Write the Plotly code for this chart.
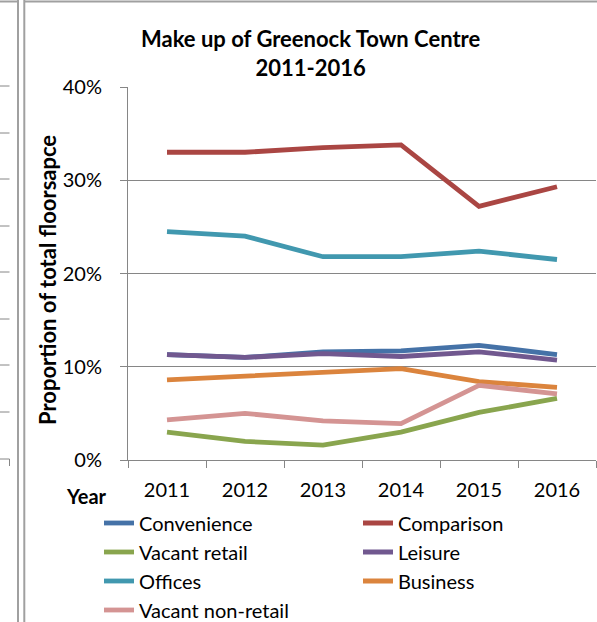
import plotly.graph_objects as go

# Floorspace make-up of Greenock town centre, share of total floorspace (%)
years = ["2011", "2012", "2013", "2014", "2015", "2016"]
convenience = [11.3, 11.0, 11.6, 11.7, 12.3, 11.3]
comparison = [33.0, 33.0, 33.5, 33.8, 27.2, 29.3]
vacant_retail = [3.0, 2.0, 1.6, 3.0, 5.1, 6.6]
leisure = [11.3, 11.0, 11.4, 11.1, 11.6, 10.7]
offices = [24.5, 24.0, 21.8, 21.8, 22.4, 21.5]
business = [8.6, 9.0, 9.5, 9.8, 8.4, 7.8]
vacant_non_retail = [4.3, 5.0, 4.2, 3.9, 8.0, 7.1]

# name, values, colour, legend column
series = [
    ("Convenience", convenience, "#4572A7", "legend"),
    ("Comparison", comparison, "#AA4643", "legend2"),
    ("Vacant retail", vacant_retail, "#89A54E", "legend"),
    ("Leisure", leisure, "#71588F", "legend2"),
    ("Offices", offices, "#4198AF", "legend"),
    ("Business", business, "#DB843D", "legend2"),
    ("Vacant non-retail", vacant_non_retail, "#D49493", "legend"),
]

W, H = 597, 622
ML, MR, MT, MB = 128, 1, 87, 162
PW, PH = W - ML - MR, H - MT - MB
FONT = "Lato"
GREY = "#868686"


def px(x):
    return (x - ML) / PW


def py(y):
    return (H - MB - y) / PH


fig = go.Figure()
for name, vals, color, leg in series:
    fig.add_trace(go.Scatter(
        x=years, y=[v / 100 for v in vals], name=name, mode="lines",
        line=dict(color=color, width=4.8), legend=leg,
    ))

shapes = []
# borders of the neighbouring chart and of this chart area
for xpix in (18, 24.3):
    shapes.append(dict(type="line", xref="paper", yref="paper",
                       x0=px(xpix), x1=px(xpix), y0=py(0), y1=py(H),
                       line=dict(color="#A0A0A0", width=2)))
shapes.append(dict(type="line", xref="paper", yref="paper",
                   x0=px(0), x1=px(18), y0=py(1.5), y1=py(1.5),
                   line=dict(color="#A0A0A0", width=2)))
shapes.append(dict(type="line", xref="paper", yref="paper",
                   x0=px(24.3), x1=px(W), y0=py(1.5), y1=py(1.5),
                   line=dict(color="#A0A0A0", width=2)))
# tick marks of the neighbouring chart's axis
for ypix in (86, 133, 179, 226, 272, 319, 365, 412, 459):
    shapes.append(dict(type="line", xref="paper", yref="paper",
                       x0=px(0), x1=px(9.5), y0=py(ypix), y1=py(ypix),
                       line=dict(color=GREY, width=1)))
shapes.append(dict(type="line", xref="paper", yref="paper",
                   x0=px(9.5), x1=px(9.5), y0=py(459), y1=py(466),
                   line=dict(color=GREY, width=1)))

annotations = [
    dict(text="<b>Make up of Greenock Town Centre<br>2011-2016</b>",
         xref="paper", yref="paper", x=px(310), y=py(53),
         xanchor="center", yanchor="middle", showarrow=False,
         font=dict(family=FONT, size=22, color="black")),
    dict(text="<b>Proportion of total floorsapce</b>", textangle=-90,
         xref="paper", yref="paper", x=px(47), y=py(280),
         xanchor="center", yanchor="middle", showarrow=False,
         font=dict(family=FONT, size=22, color="black")),
    dict(text="<b>Year</b>", xref="paper", yref="paper",
         x=px(86), y=py(496), xanchor="center", yanchor="middle",
         showarrow=False, font=dict(family=FONT, size=20, color="black")),
]

legend_common = dict(
    orientation="v", xanchor="left", yanchor="top",
    xref="container", yref="container",
    y=(H - 503.5) / H, font=dict(family=FONT, size=20, color="black"),
    bgcolor="rgba(0,0,0,0)", tracegroupgap=0, itemclick=False,
)

fig.update_layout(
    width=W, height=H,
    margin=dict(l=ML, r=MR, t=MT, b=MB, pad=0, autoexpand=False),
    paper_bgcolor="white", plot_bgcolor="white",
    font=dict(family=FONT, size=20, color="black"),
    showlegend=True,
    legend=dict(x=99 / W, **legend_common),
    legend2=dict(x=358 / W, **legend_common),
    shapes=shapes,
    annotations=annotations,
    xaxis=dict(type="category", categoryorder="array", categoryarray=years,
               range=[-0.5, 5.5], tickson="boundaries", ticks="outside",
               ticklen=7, tickcolor=GREY, tickwidth=1,
               showline=True, linecolor=GREY, linewidth=1,
               showgrid=False, zeroline=False, ticklabelstandoff=12,
               automargin=False,
               tickfont=dict(family=FONT, size=20, color="black")),
    yaxis=dict(range=[0, 0.4], dtick=0.1, tickformat=".0%",
               ticks="outside", ticklen=7, tickcolor=GREY, tickwidth=1,
               showline=True, linecolor=GREY, linewidth=1,
               showgrid=True, gridcolor=GREY, gridwidth=1,
               zeroline=False, ticklabelstandoff=14, automargin=False,
               tickfont=dict(family=FONT, size=20, color="black")),
)

fig.write_html("out.html")
